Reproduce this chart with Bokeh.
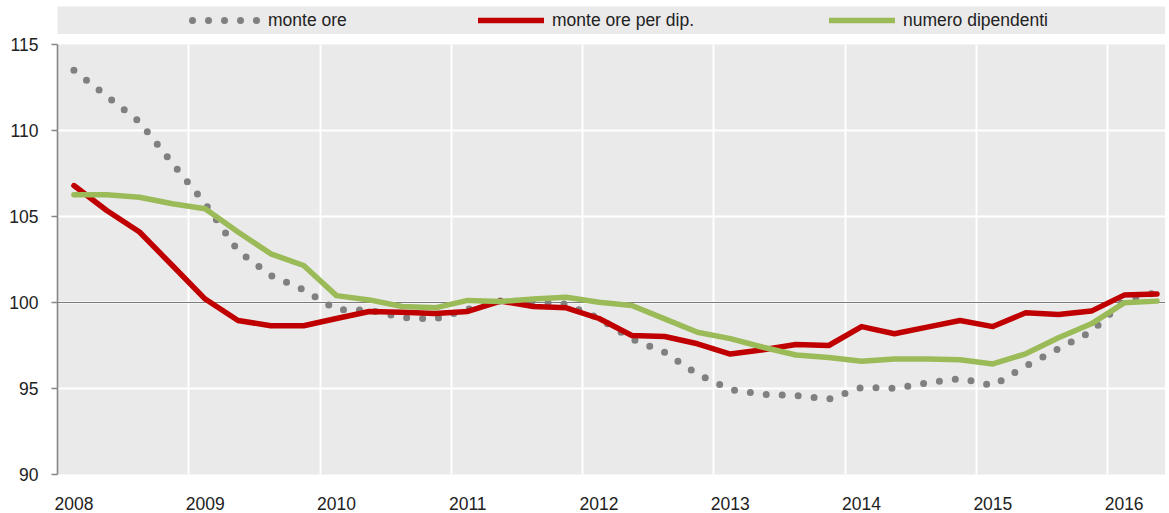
from bokeh.plotting import figure
from bokeh.models import FixedTicker, Span, Legend, LegendItem, Range1d
from bokeh.layouts import column
from bokeh.embed import file_html
from bokeh.resources import INLINE

# ---------------- data (quarterly, 2008 Q1 - 2016 Q2) ----------------
years = ["2008", "2009", "2010", "2011", "2012", "2013", "2014", "2015", "2016"]
quarters = [f"{y} T{q}" for y in years for q in (1, 2, 3, 4)][:34]

monte_ore = [113.5, 112.0, 110.5, 108.1, 105.75, 103.0, 101.57, 100.74,
             99.59, 99.56, 99.13, 99.04, 99.6, 100.1, 100.05, 99.9,
             99.07, 97.88, 97.1, 95.84, 94.94, 94.66, 94.59, 94.38,
             95.06, 95.01, 95.32, 95.58, 95.17, 96.3, 97.31, 98.31,
             100.12, 100.58]

monte_ore_per_dip = [106.8, 105.35, 104.1, 102.15, 100.2, 98.95, 98.65, 98.65,
                     99.07, 99.48, 99.44, 99.36, 99.48, 100.08, 99.77, 99.69,
                     99.07, 98.08, 98.02, 97.6, 97.0, 97.25, 97.56, 97.5,
                     98.6, 98.18, 98.57, 98.95, 98.6, 99.4, 99.3, 99.5,
                     100.43, 100.5]

numero_dipendenti = [106.26, 106.26, 106.12, 105.74, 105.45, 104.1, 102.83, 102.15,
                     100.4, 100.15, 99.77, 99.69, 100.12, 100.06, 100.2, 100.3,
                     100.02, 99.83, 99.05, 98.27, 97.9, 97.4, 96.95, 96.8,
                     96.59, 96.72, 96.72, 96.67, 96.43, 97.02, 97.95, 98.76,
                     99.98, 100.08]

series_names = ["monte ore", "monte ore per dip.", "numero dipendenti"]
y_ticks = [90, 95, 100, 105, 110, 115]

# ---------------- style ----------------
FONT = "'Liberation Sans', Arial, sans-serif"
FONT_SIZE = "17.5px"
TEXT_COLOR = "#222222"
BG = "#eaeaea"
GRAY = "#808080"
RED = "#c00000"
GREEN = "#9bbb59"

x = list(range(len(quarters)))
year_pos = [i for i, q in enumerate(quarters) if q.endswith("T1")]
year_bounds = [p - 0.5 for p in year_pos if p > 0]

W = 1165
X_RANGE = (-0.5, 33.26)

# ---------------- main chart ----------------
main = figure(width=W, height=478,
              x_range=Range1d(*X_RANGE), y_range=Range1d(90, 115),
              output_backend="svg", toolbar_location=None,
              min_border_left=57, min_border_right=0,
              min_border_top=10, min_border_bottom=38,
              background_fill_color=BG, border_fill_color="white",
              outline_line_color=None)

main.yaxis.ticker = FixedTicker(ticks=y_ticks)
main.yaxis.axis_line_color = "#868686"
main.yaxis.axis_line_width = 1.6
main.yaxis.major_tick_line_color = "#868686"
main.yaxis.major_tick_line_width = 1.6
main.yaxis.major_tick_out = 6
main.yaxis.major_tick_in = 0
main.yaxis.minor_tick_line_color = None
main.yaxis.major_label_standoff = 13

main.xaxis.ticker = FixedTicker(ticks=year_pos)
main.xaxis.major_label_overrides = {p: y for p, y in zip(year_pos, years)}
main.xaxis.axis_line_color = None
main.xaxis.major_tick_line_color = None
main.xaxis.minor_tick_line_color = None
main.xaxis.major_label_standoff = 16

for ax in (main.xaxis, main.yaxis):
    ax.major_label_text_font = FONT
    ax.major_label_text_font_size = FONT_SIZE
    ax.major_label_text_color = TEXT_COLOR

main.xgrid.ticker = FixedTicker(ticks=year_bounds)
main.xgrid.grid_line_color = "white"
main.xgrid.grid_line_width = 2
main.ygrid.grid_line_color = "white"
main.ygrid.grid_line_width = 2

main.add_layout(Span(location=100, dimension="width", line_color="#7a7a7a",
                     line_width=1.2, level="underlay"))

main.line(x, monte_ore, line_color=GRAY, line_width=7, line_dash="0 16",
          line_cap="round", line_join="round")
main.line(x, monte_ore_per_dip, line_color=RED, line_width=5.5,
          line_cap="round", line_join="round")
main.line(x, numero_dipendenti, line_color=GREEN, line_width=5.5,
          line_cap="round", line_join="round")

# ---------------- legend strip ----------------
# the series are drawn here too, but outside this strip's y range, so only
# their legend samples show
leg = figure(width=W, height=34, x_range=Range1d(*X_RANGE), y_range=Range1d(0, 1),
             output_backend="svg", toolbar_location=None,
             min_border_left=56, min_border_right=0,
             min_border_top=6, min_border_bottom=0,
             background_fill_color=BG, border_fill_color="white",
             outline_line_color=None,
             x_axis_location=None, y_axis_location=None)
for g in leg.grid:
    g.visible = False

r1 = leg.line(x, monte_ore, line_color=GRAY, line_width=7, line_dash="0 16",
              line_dash_offset=12, line_cap="round")
r2 = leg.line(x, monte_ore_per_dip, line_color=RED, line_width=5.5, line_cap="round")
r3 = leg.line(x, numero_dipendenti, line_color=GREEN, line_width=5.5, line_cap="round")

for r, name, xoff, gw in zip((r1, r2, r3), series_names, (131, 421, 772), (72, 66, 66)):
    lg = Legend(items=[LegendItem(label=name, renderers=[r])],
                location=(xoff, 0), orientation="horizontal",
                padding=0, margin=0, spacing=0,
                glyph_width=gw, glyph_height=28, label_height=28,
                label_standoff=8,
                label_text_font=FONT, label_text_font_size=FONT_SIZE,
                label_text_color=TEXT_COLOR,
                background_fill_alpha=0, border_line_color=None)
    leg.add_layout(lg, "center")

layout = column(leg, main, spacing=0)

open("out.html", "w").write(file_html(layout, INLINE))
